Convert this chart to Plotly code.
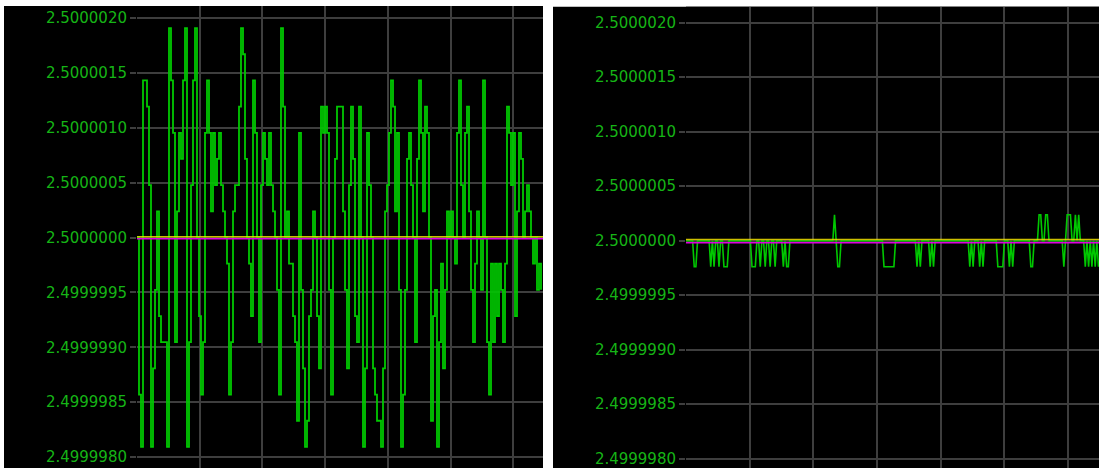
import plotly.graph_objects as go

# ADC readings around the 2.5 V reference, in counts relative to mid-scale
LSB_VOLTS = 2.384e-7
MID_VOLTS = 2.5

# Left trace: unfiltered channel
left_counts = [
    0, -6, -8, 6, 6, 5, 2, -8, -5, -2, 1, -3, -4, -4, -4, -8, 8, 6, 4, -4,
    1, 4, 3, 6, 8, -8, -4, 2, 6, 8, 0, -3, -6, -4, 4, 6, 4, 1, 4, 2,
    3, 4, 2, 1, 0, -1, -6, -4, 1, 2, 2, 5, 8, 7, 3, 0, -1, -3, 6, 4,
    0, -4, 2, 4, 3, 2, 4, 2, 1, 0, -2, -6, 8, 5, 0, 1, -1, -1, -3, -4,
    -7, 4, -2, -5, -8, -7, -3, -2, 1, 0, -3, -5, 5, 4, 5, 4, -2, -6, 0, 3,
    5, 5, 5, 1, -2, -5, 2, 5, 3, -3, -4, 5, 0, -8, -5, 4, 2, 0, -5, -6,
    -7, -7, -8, -5, 1, 2, 4, 6, 5, 1, 4, -2, -8, -6, -2, 3, 4, 2, 0, -4,
    3, 6, 4, 1, 5, 4, 0, -7, -3, -2, -8, -4, -1, -5, -2, 1, 0, 1, 0, -1,
    4, 6, 2, 0, 4, 5, 1, -2, -4, -1, 1, 0, -2, 6, 0, -4, -6, -1, -4, -1,
    -3, -1, -2, -4, -1, 5, 4, 2, 4, -3, 1, 4, 3, 0, 1, 2, 1, 0, -1, 0,
    -2, -1, -2,
]

# Right trace: filtered channel
right_counts = [
    0, 0, 0, 0, 0, -1, -1, 0, 0, 0, 0, 0, 0, 0, 0, -1, 0, -1, 0, 0, -1, 0, 0, -1, -1,
    -1, 0, 0, 0, 0, 0, 0, 0, 0, 0, 0, 0, 0, 0, 0, -1, -1, -1, 0, 0, -1, 0, 0, -1, 0,
    0, -1, 0, 0, -1, 0, 0, 0, 0, -1, 0, -1, -1, 0, 0, 0, 0, 0, 0, 0, 0, 0, 0, 0, 0,
    0, 0, 0, 0, 0, 0, 0, 0, 0, 0, 0, 0, 0, 0, 0, 1, 0, -1, -1, 0, 0, 0, 0, 0, 0,
    0, 0, 0, 0, 0, 0, 0, 0, 0, 0, 0, 0, 0, 0, 0, 0, 0, 0, 0, 0, -1, -1, -1, -1, -1,
    -1, -1, 0, 0, 0, 0, 0, 0, 0, 0, 0, 0, 0, 0, 0, -1, 0, -1, 0, 0, 0, 0, 0, -1, 0,
    -1, 0, 0, 0, 0, 0, 0, 0, 0, 0, 0, 0, 0, 0, 0, 0, 0, 0, 0, 0, 0, 0, -1, 0, -1,
    0, 0, 0, -1, 0, -1, 0, 0, 0, 0, 0, 0, 0, 0, -1, -1, -1, -1, 0, 0, 0, -1, 0, -1, 0,
    0, 0, 0, 0, 0, 0, 0, 0, 0, -1, -1, 0, 0, 0, 1, 1, 0, 0, 1, 1, 0, 0, 0, 0, 0,
    0, 0, 0, 0, -1, 0, 1, 1, 1, 0, 0, 1, 0, 1, 0, 0, 0, -1, 0, -1, 0, -1, 0, -1, 0,
    -1,
]

# Horizontal reference levels (volts)
left_ref_high = 2.500000007
left_ref_low = 2.499999988
right_ref_high = 2.500000011
right_ref_low = 2.499999982

tick_values = [2.4999980, 2.4999985, 2.4999990, 2.4999995, 2.5000000,
               2.5000005, 2.5000010, 2.5000015, 2.5000020]
tick_labels = ["2.4999980", "2.4999985", "2.4999990", "2.4999995", "2.5000000",
               "2.5000005", "2.5000010", "2.5000015", "2.5000020"]

W, H = 1099, 468
GRID = "#3e3e3e"
LABEL_GREEN = "#16b416"
TRACE_GREEN = "#00c800"


def to_volts(counts):
    return [MID_VOLTS + c * LSB_VOLTS for c in counts]


fig = go.Figure()
fig.add_trace(go.Scatter(
    x=list(range(len(left_counts))), y=to_volts(left_counts),
    mode="lines", line=dict(color=TRACE_GREEN, width=1.8, shape="hv"),
    xaxis="x", yaxis="y", showlegend=False, hoverinfo="skip"))
fig.add_trace(go.Scatter(
    x=list(range(len(right_counts))), y=to_volts(right_counts),
    mode="lines", line=dict(color=TRACE_GREEN, width=1.6),
    xaxis="x2", yaxis="y2", showlegend=False, hoverinfo="skip"))

shapes = [
    # dark panel backgrounds (including the label gutters)
    dict(type="rect", xref="paper", yref="paper", x0=4 / W, x1=543 / W,
         y0=0, y1=(H - 6) / H, fillcolor="black", line=dict(width=0), layer="below"),
    dict(type="rect", xref="paper", yref="paper", x0=553 / W, x1=1,
         y0=0, y1=(H - 6.7) / H, fillcolor="black", line=dict(width=0), layer="below"),
]
for xr, yr, hi, lo in (("x", "y", left_ref_high, left_ref_low),
                       ("x2", "y2", right_ref_high, right_ref_low)):
    shapes.append(dict(type="line", xref=f"{xr} domain", yref=yr, x0=0, x1=1,
                       y0=lo, y1=lo, line=dict(color="#e000e0", width=1.5)))
    shapes.append(dict(type="line", xref=f"{xr} domain", yref=yr, x0=0, x1=1,
                       y0=hi, y1=hi, line=dict(color="rgba(240,225,0,0.85)", width=1.5)))

yaxis_common = dict(
    tickvals=tick_values, ticktext=tick_labels,
    tickfont=dict(family="DejaVu Sans", size=15, color=LABEL_GREEN),
    ticks="outside", ticklen=6, tickwidth=2, tickcolor=GRID,
    showgrid=True, gridcolor=GRID, gridwidth=2,
    zeroline=False, showline=False, fixedrange=True,
)
xaxis_common = dict(
    showticklabels=False, ticks="", showgrid=True, gridcolor=GRID, gridwidth=2,
    zeroline=False, showline=False, tick0=0, fixedrange=True,
)

fig.update_layout(
    width=W, height=H,
    margin=dict(l=0, r=0, t=0, b=0),
    paper_bgcolor="white", plot_bgcolor="black",
    shapes=shapes,
    xaxis=dict(domain=[137 / W, 543 / W], range=[0, 203], dtick=31.35, anchor="y", **xaxis_common),
    yaxis=dict(domain=[0, (H - 6) / H], range=[2.5 - 2.0993e-6, 2.5 + 2.1084e-6],
               anchor="x", **yaxis_common),
    xaxis2=dict(domain=[686 / W, 1], range=[0, 250.3], dtick=38.6, anchor="y2", **xaxis_common),
    yaxis2=dict(domain=[0, (H - 6.7) / H], range=[2.5 - 2.0853e-6, 2.5 + 2.1468e-6],
                anchor="x2", **yaxis_common),
)

fig.write_html("out.html", config={"displayModeBar": False})
